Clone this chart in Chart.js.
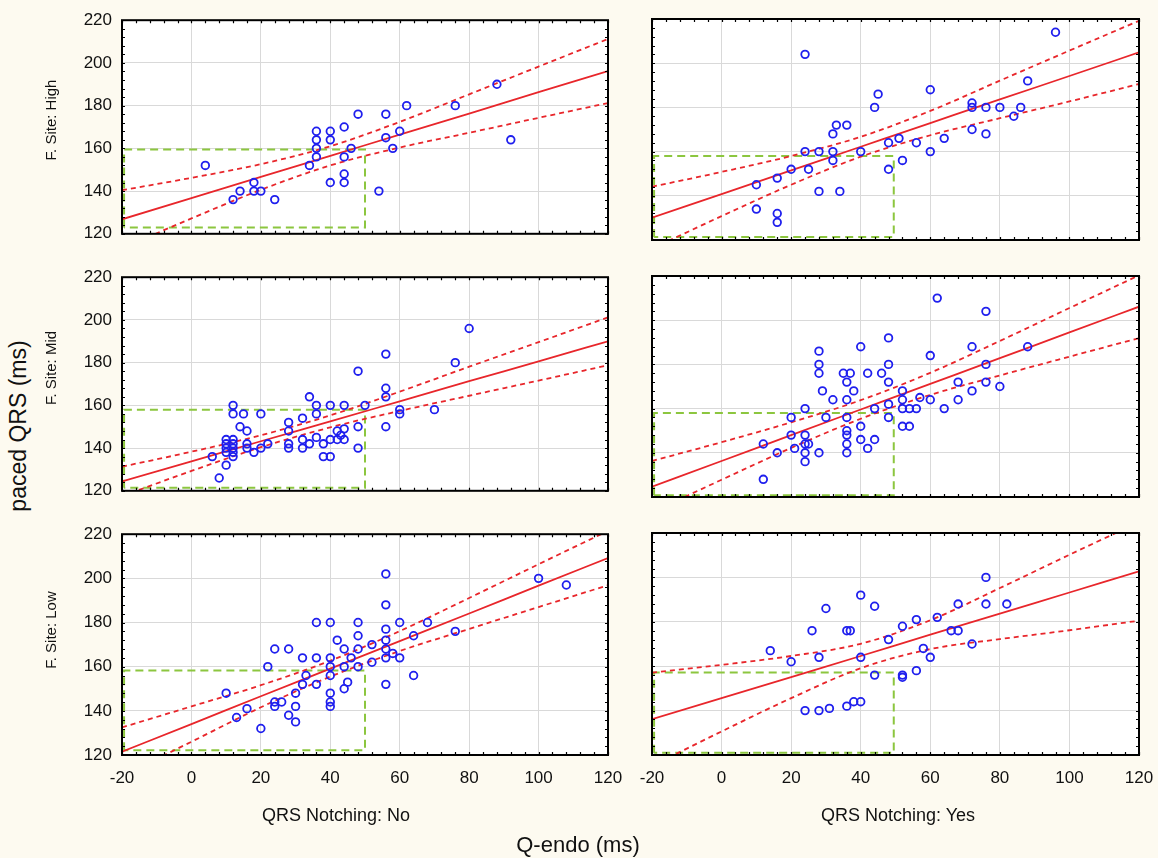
<!DOCTYPE html>
<html>
<head>
<meta charset="utf-8">
<script src="https://cdn.jsdelivr.net/npm/chart.js@4.4.1/dist/chart.umd.min.js"></script>
<style>
  body { margin: 0; background: #fdfaf0; width: 1158px; height: 858px; overflow: hidden; position: relative;
         font-family: "Liberation Sans", Arial, sans-serif; color: #111; }
  canvas { position: absolute; }
  .lbl { position: absolute; white-space: nowrap; transform: translate(-50%, -50%); }
  .rot { transform: translate(-50%, -50%) rotate(-90deg); }
</style>
</head>
<body>
<canvas id="p0" width="600" height="254" style="left:40px;top:0px"></canvas>
<canvas id="p1" width="526" height="254" style="left:630px;top:0px"></canvas>
<canvas id="p2" width="600" height="254" style="left:40px;top:257px"></canvas>
<canvas id="p3" width="526" height="254" style="left:630px;top:257px"></canvas>
<canvas id="p4" width="600" height="344" style="left:40px;top:514px"></canvas>
<canvas id="p5" width="526" height="344" style="left:630px;top:514px"></canvas>

<div class="lbl rot" style="left:18px;top:426px;font-size:23px">paced QRS (ms)</div>
<div class="lbl rot" style="left:50px;top:120px;font-size:15px">F. Site: High</div>
<div class="lbl rot" style="left:50px;top:368px;font-size:15px">F. Site: Mid</div>
<div class="lbl rot" style="left:50px;top:630px;font-size:15px">F. Site: Low</div>
<div class="lbl" style="left:336px;top:815px;font-size:18px">QRS Notching: No</div>
<div class="lbl" style="left:898px;top:815px;font-size:18px">QRS Notching: Yes</div>
<div class="lbl" style="left:578px;top:845px;font-size:22px">Q-endo (ms)</div>

<script>
const xGrid = [-20, 0, 20, 40, 60, 80, 100, 120];

// F. Site: High
const highNo = [[4,152],[12,136],[14,140],[18,144],[18,140],[20,140],[24,136],[34,152],[36,168],[36,164],
  [36,160],[36,156],[40,168],[40,164],[40,144],[44,170],[44,156],[44,148],[44,144],[46,160],[48,176],[54,140],
  [56,176],[56,165],[58,160],[60,168],[62,180],[76,180],[88,190],[92,164]];
const highYes = [[24,204],[10,145],[10,134],[16,148],[16,132],[16,128],[20,152],[24,160],[25,152],[28,160],
  [28,142],[32,168],[32,160],[32,156],[33,172],[34,142],[36,172],[40,160],[44,180],[45,186],[48,164],[48,152],
  [51,166],[52,156],[56,164],[60,188],[60,160],[64,166],[72,182],[72,180],[72,170],[76,180],[76,168],[80,180],
  [84,176],[86,180],[88,192],[96,214]];

// F. Site: Mid
const midNo = [[8,126],[10,132],[6,136],[10,144],[10,142],[10,140],[10,138],[12,144],[12,142],[12,140],[12,138],
  [12,136],[12,160],[12,156],[15,156],[14,150],[16,148],[16,142],[16,140],[18,138],[20,156],[20,140],[22,142],
  [28,152],[28,148],[28,142],[28,140],[32,154],[32,144],[32,140],[34,164],[34,142],[36,160],[36,156],[36,145],
  [38,142],[38,136],[40,160],[40,144],[40,136],[42,148],[42,144],[43,146],[44,160],[44,149],[44,144],[48,176],
  [48,150],[48,140],[50,160],[56,184],[56,168],[56,164],[56,150],[60,158],[60,156],[70,158],[76,180],[80,196]];
const midYes = [[12,128],[12,144],[16,140],[20,156],[20,148],[21,142],[24,160],[24,148],[24,144],[24,140],[24,136],
  [25,144],[28,186],[28,180],[28,176],[28,140],[29,168],[30,156],[32,164],[35,176],[37,176],[36,172],[36,164],
  [36,156],[36,150],[36,148],[36,144],[36,140],[38,168],[40,188],[40,152],[40,146],[42,176],[42,142],[44,160],
  [44,146],[46,176],[48,192],[48,180],[48,172],[48,162],[48,156],[52,168],[52,164],[52,160],[52,152],[54,160],
  [54,152],[56,160],[57,165],[60,184],[60,164],[62,210],[64,160],[68,172],[68,164],[72,188],[72,168],[76,204],
  [76,180],[76,172],[80,170],[88,188]];

// F. Site: Low
const lowNo = [[10,148],[13,137],[16,141],[20,132],[22,160],[24,168],[24,144],[24,142],[26,144],[28,168],[28,138],
  [30,148],[30,142],[30,135],[32,164],[32,152],[33,156],[36,180],[36,164],[36,152],[40,180],[40,164],[40,160],
  [40,156],[40,148],[40,144],[40,142],[42,172],[44,168],[44,160],[44,150],[45,153],[46,164],[48,180],[48,174],
  [48,168],[48,160],[52,170],[52,162],[56,202],[56,188],[56,177],[56,172],[56,168],[56,164],[56,152],[58,166],
  [60,180],[60,164],[64,174],[64,156],[68,180],[76,176],[100,200],[108,197]];
const lowYes = [[14,167],[20,162],[24,140],[26,176],[28,164],[28,140],[30,186],[31,141],[36,142],[36,176],[37,176],
  [38,144],[40,144],[40,192],[40,164],[44,187],[44,156],[48,172],[52,178],[52,156],[52,155],[56,181],[56,158],
  [58,168],[60,164],[62,182],[66,176],[68,188],[68,176],[72,170],[76,200],[76,188],[82,188]];

// regression line and 95% bands, read at xGrid
const fitHighNo  = [126.8, 136.7, 146.6, 156.5, 166.4, 176.3, 186.3, 196.2];
const upHighNo   = [140.4, 146.2, 152.6, 161.0, 172.4, 185.3, 198.3, 211.2];
const loHighNo   = [113.2, 127.2, 140.6, 152.0, 160.4, 167.3, 174.3, 181.2];
const fitHighYes = [130.1, 140.8, 151.5, 162.2, 172.9, 183.6, 194.2, 204.9];
const upHighYes  = [144.1, 150.8, 158.0, 166.7, 178.4, 192.1, 205.7, 219.2];
const loHighYes  = [116.1, 130.8, 145.0, 157.7, 167.4, 175.1, 182.7, 190.6];
const fitMidNo   = [124.4, 133.8, 143.2, 152.5, 161.9, 171.3, 180.6, 190.0];
const upMidNo    = [131.3, 138.3, 146.0, 155.3, 166.4, 178.1, 189.6, 201.2];
const loMidNo    = [117.5, 129.3, 140.4, 149.7, 157.4, 164.5, 171.6, 178.8];
const fitMidYes  = [124.7, 136.3, 148.0, 159.6, 171.2, 182.8, 194.5, 206.1];
const upMidYes   = [136.3, 144.8, 153.8, 163.8, 176.2, 190.6, 205.5, 220.3];
const loMidYes   = [113.1, 127.8, 142.2, 155.4, 166.2, 175.0, 183.5, 191.9];
const fitLowNo   = [121.5, 134.0, 146.6, 159.1, 171.6, 184.1, 196.7, 209.2];
const upLowNo    = [132.5, 142.0, 151.6, 162.7, 176.1, 191.1, 206.4, 221.5];
const loLowNo    = [110.5, 126.0, 141.6, 155.5, 167.1, 177.1, 187.0, 196.9];
const fitLowYes  = [136.1, 145.6, 155.1, 164.6, 174.2, 183.7, 193.2, 202.7];
const upLowYes   = [157.1, 160.6, 164.6, 170.1, 180.7, 195.2, 210.2, 224.9];
const loLowYes   = [115.1, 130.6, 145.6, 159.1, 167.7, 172.2, 176.2, 180.5];

// green reference box per panel: [x0, x1, y0, y1]
const boxes = [
  [-19.4, 50, 123.0, 159.5], [-19.4, 49.5, 121.4, 158.0],
  [-19.4, 50, 121.4, 158.0], [-19.4, 49.5, 120.8, 158.0],
  [-19.4, 50, 122.2, 158.3], [-19.4, 49.5, 121.0, 157.2]
];

const xRange = [-20, 120], yRange = [120, 220], tickStep = 20, minorStep = 4;

const panels = [
  { id: 'p0', pts: highNo,  fit: fitHighNo,  up: upHighNo,  lo: loHighNo,  left: true,  bottom: false },
  { id: 'p1', pts: highYes, fit: fitHighYes, up: upHighYes, lo: loHighYes, left: false, bottom: false },
  { id: 'p2', pts: midNo,   fit: fitMidNo,   up: upMidNo,   lo: loMidNo,   left: true,  bottom: false },
  { id: 'p3', pts: midYes,  fit: fitMidYes,  up: upMidYes,  lo: loMidYes,  left: false, bottom: false },
  { id: 'p4', pts: lowNo,   fit: fitLowNo,   up: upLowNo,   lo: loLowNo,   left: true,  bottom: true },
  { id: 'p5', pts: lowYes,  fit: fitLowYes,  up: upLowYes,  lo: loLowYes,  left: false, bottom: true }
];

const RED = '#e8262b', BLUE = '#1f1fee', GREEN = '#8cc63f';

Chart.defaults.font.family = '"Liberation Sans", Arial, sans-serif';
Chart.defaults.color = '#111';

// white plot area, black frame with small inward ticks
const framePlugin = {
  id: 'frame',
  beforeDraw(chart) {
    const { ctx, chartArea: a } = chart;
    ctx.save();
    ctx.fillStyle = '#fff';
    ctx.fillRect(a.left, a.top, a.width, a.height);
    ctx.restore();
  },
  afterDatasetsDraw(chart) {
    const { ctx, chartArea: a, scales: { x, y } } = chart;
    ctx.save();
    ctx.strokeStyle = '#000';
    ctx.lineWidth = 1.2;
    ctx.beginPath();
    for (let v = x.min; v <= x.max; v += minorStep) {
      const px = Math.round(x.getPixelForValue(v)) + 0.5;
      ctx.moveTo(px, a.top); ctx.lineTo(px, a.top + 3);
      ctx.moveTo(px, a.bottom); ctx.lineTo(px, a.bottom - 3);
    }
    for (let v = y.min; v <= y.max; v += minorStep) {
      const py = Math.round(y.getPixelForValue(v)) + 0.5;
      ctx.moveTo(a.left, py); ctx.lineTo(a.left + 3, py);
      ctx.moveTo(a.right, py); ctx.lineTo(a.right - 3, py);
    }
    ctx.stroke();
    ctx.lineWidth = 2;
    ctx.strokeRect(a.left, a.top, a.width, a.height);
    ctx.restore();
  }
};

function curve(vals, dashed) {
  return {
    data: xGrid.map((x, i) => ({ x, y: vals[i] })),
    showLine: true,
    borderColor: RED,
    borderWidth: 1.8,
    borderDash: dashed ? [5, 4] : [],
    pointRadius: 0,
    cubicInterpolationMode: 'monotone'
  };
}

panels.forEach((p, i) => {
  const [x0, x1, y0, y1] = boxes[i];
  new Chart(document.getElementById(p.id), {
    type: 'scatter',
    data: {
      datasets: [
        {
          data: p.pts.map(([x, y]) => ({ x, y })),
          pointStyle: 'circle',
          pointRadius: 3.8,
          borderWidth: 1.8,
          borderColor: BLUE,
          backgroundColor: 'rgba(0,0,0,0)'
        },
        curve(p.fit, false),
        curve(p.up, true),
        curve(p.lo, true),
        {
          data: [{ x: x0, y: y0 }, { x: x0, y: y1 }, { x: x1, y: y1 }, { x: x1, y: y0 }, { x: x0, y: y0 }],
          showLine: true,
          borderColor: GREEN,
          borderWidth: 2,
          borderDash: [8, 5],
          pointRadius: 0
        }
      ]
    },
    options: {
      responsive: false,
      animation: false,
      layout: { padding: { left: 0, right: p.left ? 32 : 17, top: 19, bottom: p.bottom ? 33 : 14 } },
      plugins: { legend: { display: false }, tooltip: { enabled: false } },
      scales: {
        x: {
          type: 'linear', min: xRange[0], max: xRange[1],
          ticks: { stepSize: tickStep, display: p.bottom, padding: 1, font: { size: 17 } },
          grid: { color: '#d9d9d9', drawTicks: true, tickLength: 12, tickColor: 'rgba(0,0,0,0)' },
          border: { display: false },
          afterFit: s => { s.height = p.bottom ? 70 : 0; }
        },
        y: {
          min: yRange[0], max: yRange[1],
          ticks: { stepSize: tickStep, display: p.left, padding: 10, font: { size: 17 } },
          grid: { color: '#d9d9d9', drawTicks: false },
          border: { display: false },
          afterFit: s => { s.width = p.left ? 82 : 22; }
        }
      }
    },
    plugins: [framePlugin]
  });
});
</script>
</body>
</html>
